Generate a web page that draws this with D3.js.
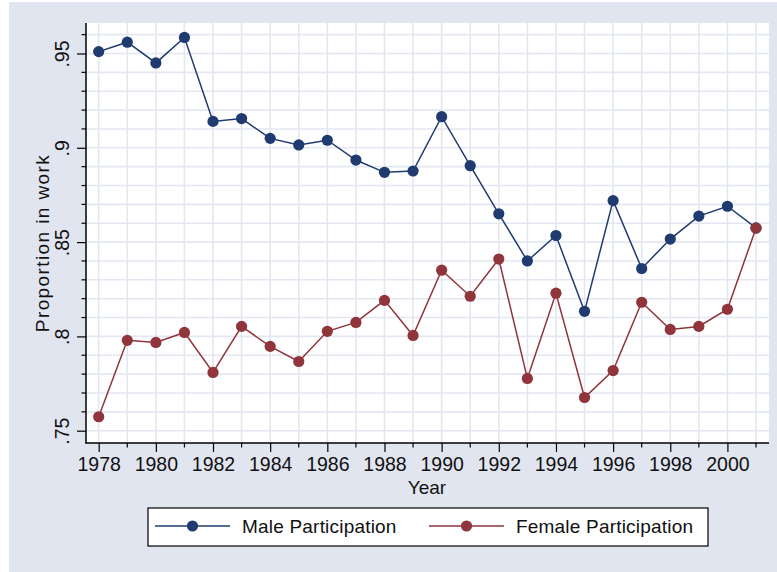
<!DOCTYPE html>
<html>
<head>
<meta charset="utf-8">
<style>
  body { margin: 0; background: #fff; }
  svg { display: block; font-family: "Liberation Sans", Arial, sans-serif; }
</style>
<script src="https://cdn.jsdelivr.net/npm/d3@7"></script>
</head>
<body>
<div id="chart"></div>
<script>
// values
const years = d3.range(1978, 2002);
const male = [.951, .956, .945, .9585, .914, .9155, .905, .9015, .904, .8935, .887, .8877,
  .9165, .8905, .865, .840, .8535, .8133, .872, .836, .8516, .8638, .869, .8575];
const female = [.7574, .7979, .7968, .8021, .7809, .8053, .7947, .7867, .8027, .8074, .8191, .8005,
  .8351, .8213, .841, .7777, .8229, .7676, .7819, .8181, .8037, .8053, .8144, .8574];
const yLabels = [.75, .8, .85, .9, .95];
const xLabels = d3.range(1978, 2001, 2);
const seriesNames = ["Male Participation", "Female Participation"];
const colors = ["#1f3b70", "#90353b"];

const width = 777, height = 572;
const plot = { left: 86, right: 769, top: 23, bottom: 443 };

const x = d3.scaleLinear().domain([1978, 2001]).range([98.7, 756]);
const y = d3.scaleLinear().domain([0.75, 0.95]).range([430.7, 53.5]);

const svg = d3.select("#chart").append("svg")
  .attr("width", width).attr("height", height);

svg.append("rect").attr("x", 9).attr("y", 2)
  .attr("width", width - 9).attr("height", height - 2)
  .attr("fill", "#e1e5f0");

svg.append("rect")
  .attr("x", plot.left).attr("y", plot.top)
  .attr("width", plot.right - plot.left).attr("height", plot.bottom - plot.top)
  .attr("fill", "#fff");

// grid
const yMinor = d3.range(75, 97).map(d => d / 100);
svg.append("g").selectAll("line").data(yMinor).join("line")
  .attr("x1", plot.left).attr("x2", plot.right)
  .attr("y1", d => y(d)).attr("y2", d => y(d))
  .attr("stroke", "#e3e7f1").attr("stroke-width", 1.6);
svg.append("g").selectAll("line").data(years).join("line")
  .attr("y1", plot.top).attr("y2", plot.bottom)
  .attr("x1", d => x(d)).attr("x2", d => x(d))
  .attr("stroke", "#e3e7f1").attr("stroke-width", 1.6);

// y axis
const yAxis = d3.axisLeft(y).tickValues(yLabels).tickSize(9)
  .tickFormat(d => d3.format(".2f")(d).replace(/^0/, "").replace(/0$/, ""));
const yG = svg.append("g").attr("transform", `translate(${plot.left},0)`).call(yAxis);
yG.select(".domain").remove();
yG.selectAll(".tick line").attr("stroke", "#000").attr("stroke-width", 1.2);
yG.selectAll(".tick text")
  .attr("font-size", 19.5).attr("fill", "#111")
  .attr("x", null).attr("y", null).attr("dy", 0)
  .attr("text-anchor", "middle")
  .attr("transform", "translate(-17,0) rotate(-90)");
svg.append("g").selectAll("line").data(yMinor.filter(d => !yLabels.some(v => Math.abs(v - d) < 1e-6)))
  .join("line")
  .attr("x1", plot.left - 4.5).attr("x2", plot.left)
  .attr("y1", d => y(d)).attr("y2", d => y(d))
  .attr("stroke", "#000").attr("stroke-width", 1.2);
svg.append("line").attr("x1", plot.left).attr("x2", plot.left)
  .attr("y1", plot.top).attr("y2", plot.bottom + 0.5)
  .attr("stroke", "#000").attr("stroke-width", 1.5);

// x axis
const xAxis = d3.axisBottom(x).tickValues(xLabels).tickSize(9).tickFormat(d3.format("d"));
const xG = svg.append("g").attr("transform", `translate(0,${plot.bottom})`).call(xAxis);
xG.select(".domain").remove();
xG.selectAll(".tick line").attr("stroke", "#000").attr("stroke-width", 1.2);
xG.selectAll(".tick text").attr("font-size", 19.5).attr("fill", "#111").attr("y", 14);
svg.append("g").selectAll("line").data(years.filter(d => d % 2 === 1)).join("line")
  .attr("x1", d => x(d)).attr("x2", d => x(d))
  .attr("y1", plot.bottom).attr("y2", plot.bottom + 4.5)
  .attr("stroke", "#000").attr("stroke-width", 1.2);
svg.append("line").attr("x1", plot.left - 0.5).attr("x2", plot.right)
  .attr("y1", plot.bottom).attr("y2", plot.bottom)
  .attr("stroke", "#000").attr("stroke-width", 1.5);

// titles
svg.append("text").attr("x", 427).attr("y", 494)
  .attr("text-anchor", "middle").attr("font-size", 19).attr("fill", "#111").text("Year");
svg.append("text").attr("transform", "translate(49,243) rotate(-90)")
  .attr("text-anchor", "middle").attr("font-size", 19).attr("fill", "#111")
  .attr("letter-spacing", 1.4).text("Proportion in work");

// series
const line = d3.line().x((d, i) => x(years[i])).y(d => y(d));
[male, female].forEach((s, k) => {
  svg.append("path").datum(s).attr("d", line)
    .attr("fill", "none").attr("stroke", colors[k]).attr("stroke-width", 1.5);
  svg.append("g").selectAll("circle").data(s).join("circle")
    .attr("cx", (d, i) => x(years[i])).attr("cy", d => y(d))
    .attr("r", 5.6).attr("fill", colors[k]);
});

// legend
const lg = svg.append("g");
lg.append("rect").attr("x", 148).attr("y", 508).attr("width", 560).attr("height", 38)
  .attr("fill", "#fff").attr("stroke", "#000").attr("stroke-width", 1.2);
const legendX = [155, 429];
seriesNames.forEach((name, k) => {
  const x0 = legendX[k];
  lg.append("line").attr("x1", x0).attr("x2", x0 + 75).attr("y1", 526).attr("y2", 526)
    .attr("stroke", colors[k]).attr("stroke-width", 1.5);
  lg.append("circle").attr("cx", x0 + 37.5).attr("cy", 526).attr("r", 5.6).attr("fill", colors[k]);
  lg.append("text").attr("x", x0 + 87).attr("y", 533).attr("font-size", 19)
    .attr("fill", "#111").attr("letter-spacing", 0.2).text(name);
});
</script>
</body>
</html>
